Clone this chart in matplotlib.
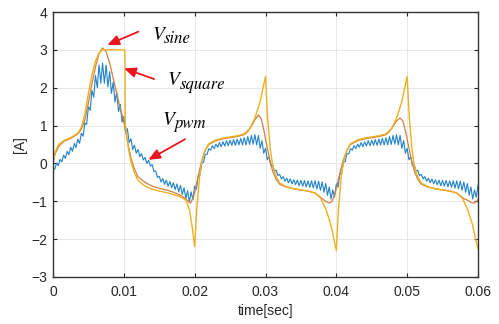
import numpy as np
import matplotlib
matplotlib.use("Agg")
import matplotlib.pyplot as plt

plt.rcParams['font.family'] = 'Liberation Sans'

# square-wave drive current: (time in ms, current in A)
square_t = [0, 0.3, 0.8, 1.5, 2.5, 3.5, 4.0, 4.5, 5.0, 5.5, 6.0, 6.5, 7.0,
            10.15, 10.2, 10.6, 11.0, 11.5, 12.0, 13.0, 14.0, 15.0, 16.0, 17.0, 18.0, 18.8, 19.3, 19.7, 20.0,
            20.3, 20.7, 21.0, 21.5, 22.0, 23.0, 24.0, 25.0, 26.0, 27.0, 27.8, 28.5, 29.2, 29.6, 30.0,
            30.3, 30.7, 31.0, 31.5, 32.0, 33.0, 34.0, 35.0, 36.0, 37.0, 37.8, 38.5, 39.2, 39.6, 40.0,
            40.3, 40.7, 41.0, 41.5, 42.0, 43.0, 44.0, 45.0, 46.0, 47.0, 47.8, 48.5, 49.2, 49.6, 50.0,
            50.3, 50.7, 51.0, 51.5, 52.0, 53.0, 54.0, 55.0, 56.0, 57.0, 57.8, 58.5, 59.2, 59.6, 60.0]
square_v = [0.0, 0.3, 0.5, 0.6, 0.68, 0.8, 0.95, 1.3, 1.85, 2.35, 2.7, 2.92, 3.0,
            3.0, 1.05, 0.45, 0.05, -0.25, -0.45, -0.6, -0.68, -0.73, -0.77, -0.82, -0.88, -0.98, -1.25, -1.75, -2.2,
            -1.2, -0.35, 0.05, 0.35, 0.52, 0.62, 0.67, 0.7, 0.73, 0.78, 0.92, 1.2, 1.6, 1.95, 2.3,
            1.2, 0.35, -0.05, -0.35, -0.52, -0.62, -0.67, -0.7, -0.73, -0.78, -0.92, -1.2, -1.6, -1.95, -2.3,
            -1.2, -0.35, 0.05, 0.35, 0.52, 0.62, 0.67, 0.7, 0.73, 0.78, 0.92, 1.2, 1.6, 1.95, 2.3,
            1.2, 0.35, -0.05, -0.35, -0.52, -0.62, -0.67, -0.7, -0.73, -0.78, -0.92, -1.2, -1.6, -1.95, -2.25]

# sine drive current
sine_t = [0, 0.3, 0.8, 1.5, 2.5, 3.5, 4.0, 4.5, 5.0, 5.5, 6.0, 6.5, 7.0, 7.5, 8.0, 8.5, 9.0, 9.5,
          10.0, 10.5, 11.0, 11.5, 12.0, 13.0, 14.0, 15.0, 16.0, 17.0, 18.0, 18.8, 19.4, 19.8,
          20.2, 20.6, 21.0, 21.5, 22.0, 23.0, 24.0, 25.0, 26.0, 27.0, 27.5, 28.0, 28.5, 29.0, 29.4, 29.8,
          30.2, 30.6, 31.0, 31.5, 32.0, 33.0, 34.0, 35.0, 36.0, 37.0, 37.5, 38.0, 38.5, 39.0, 39.4, 39.8,
          40.2, 40.6, 41.0, 41.5, 42.0, 43.0, 44.0, 45.0, 46.0, 47.0, 47.5, 48.0, 48.5, 49.0, 49.4, 49.8,
          50.2, 50.6, 51.0, 51.5, 52.0, 53.0, 54.0, 55.0, 56.0, 57.0, 57.5, 58.0, 58.5, 59.0, 59.4, 59.8,
          60.0]
sine_v = [0.05, 0.25, 0.45, 0.58, 0.66, 0.78, 0.9, 1.15, 1.6, 2.1, 2.55, 2.9, 3.05, 2.95, 2.65, 2.25, 1.85, 1.45,
          1.1, 0.6, 0.15, -0.15, -0.35, -0.5, -0.6, -0.66, -0.7, -0.76, -0.84, -0.95, -1.05, -0.9,
          -0.6, -0.25, 0.08, 0.35, 0.5, 0.6, 0.65, 0.68, 0.71, 0.76, 0.84, 0.98, 1.15, 1.28, 1.18, 0.85,
          0.45, 0.1, -0.2, -0.42, -0.55, -0.63, -0.67, -0.7, -0.73, -0.78, -0.85, -0.93, -1.0, -1.05, -1.0, -0.8,
          -0.5, -0.18, 0.1, 0.35, 0.5, 0.6, 0.65, 0.68, 0.71, 0.76, 0.84, 0.98, 1.12, 1.2, 1.12, 0.82,
          0.45, 0.1, -0.2, -0.42, -0.55, -0.63, -0.67, -0.7, -0.73, -0.78, -0.85, -0.93, -0.97, -1.03, -1.05, -1.0,
          -0.95]

# PWM current: ripple tops every 0.5 ms starting at 0, bottoms in between
pwm_peak = [-0.10, 0.01, 0.11, 0.22, 0.32, 0.43, 0.53, 0.64, 0.80, 1.07,
            1.50, 1.93, 2.32, 2.60, 2.65, 2.60, 2.42, 2.15, 1.88, 1.56,
            1.24, 0.92, 0.65, 0.48, 0.37, 0.26, 0.16, 0.08, -0.03, -0.20,
            -0.34, -0.40, -0.44, -0.48, -0.51, -0.54, -0.58, -0.64, -0.72, -0.75,
            -0.60, -0.32, 0.00, 0.24, 0.39, 0.47, 0.51, 0.55, 0.57, 0.60,
            0.61, 0.63, 0.64, 0.66, 0.68, 0.71, 0.74, 0.76, 0.74, 0.60,
            0.40, 0.17, -0.03, -0.18, -0.29, -0.35, -0.39, -0.41, -0.43, -0.44,
            -0.45, -0.45, -0.46, -0.46, -0.46, -0.47, -0.49, -0.53, -0.62, -0.70,
            -0.54, -0.28, 0.03, 0.26, 0.39, 0.47, 0.51, 0.55, 0.57, 0.60,
            0.61, 0.63, 0.64, 0.66, 0.68, 0.71, 0.74, 0.76, 0.74, 0.60,
            0.40, 0.17, -0.03, -0.18, -0.29, -0.35, -0.39, -0.41, -0.43, -0.44,
            -0.45, -0.45, -0.46, -0.46, -0.46, -0.47, -0.49, -0.53, -0.62, -0.70,
            -0.58]
pwm_trough = [-0.15, -0.06, 0.04, 0.13, 0.23, 0.32, 0.42, 0.53, 0.72, 1.03,
              1.40, 1.75, 2.00, 2.12, 2.12, 2.02, 1.85, 1.62, 1.37, 1.09,
              0.81, 0.55, 0.37, 0.27, 0.18, 0.09, 0.00, -0.07, -0.21, -0.37,
              -0.49, -0.55, -0.60, -0.64, -0.69, -0.75, -0.82, -0.93, -1.02, -0.96,
              -0.68, -0.31, 0.03, 0.24, 0.35, 0.39, 0.43, 0.44, 0.46, 0.47,
              0.48, 0.48, 0.49, 0.49, 0.49, 0.50, 0.51, 0.49, 0.40, 0.27,
              0.10, -0.06, -0.20, -0.32, -0.41, -0.47, -0.51, -0.54, -0.56, -0.59,
              -0.60, -0.62, -0.63, -0.65, -0.67, -0.71, -0.76, -0.84, -0.94, -0.89,
              -0.63, -0.27, 0.05, 0.25, 0.35, 0.39, 0.43, 0.44, 0.46, 0.47,
              0.48, 0.48, 0.49, 0.49, 0.49, 0.50, 0.51, 0.49, 0.40, 0.27,
              0.10, -0.06, -0.20, -0.32, -0.41, -0.47, -0.51, -0.54, -0.56, -0.59,
              -0.60, -0.62, -0.63, -0.65, -0.67, -0.71, -0.76, -0.84, -0.94, -0.89]

x_ticks = [0, 0.01, 0.02, 0.03, 0.04, 0.05, 0.06]
x_ticklabels = ['0', '0.01', '0.02', '0.03', '0.04', '0.05', '0.06']
y_ticks = [-3, -2, -1, 0, 1, 2, 3, 4]

# trace names (main letter, subscript)
trace_names = [('V', 'sine'), ('V', 'square'), ('V', 'pwm')]

# interleave ripple tops and bottoms on a 0.25 ms grid
pwm_v = np.empty(len(pwm_peak) + len(pwm_trough))
pwm_v[0::2] = pwm_peak
pwm_v[1::2] = pwm_trough
pwm_t = np.arange(len(pwm_v)) * 0.25e-3

fig = plt.figure(figsize=(4.99, 3.24), dpi=100)
ax = fig.add_axes([53 / 499, 1 - 277 / 324, 425 / 499, 265 / 324])

ax.plot(pwm_t, pwm_v, color='#1f82cc', linewidth=0.8)
ax.plot(np.array(sine_t) / 1000, sine_v, color='#cf7f45', linewidth=0.9)
ax.plot(np.array(square_t) / 1000, square_v, color='#edb120', linewidth=1.0)

ax.set_xlim(0, 0.06)
ax.set_ylim(-3, 4)
ax.set_xticks(x_ticks)
ax.set_xticklabels(x_ticklabels)
ax.set_yticks(y_ticks)
ax.grid(True, color='#e3e3e3', linewidth=0.6)
ax.set_axisbelow(True)
ax.tick_params(direction='in', top=True, right=True, length=3, width=0.8,
               labelsize=10, colors='#262626')
ax.tick_params(axis='x', pad=6)
ax.tick_params(axis='y', pad=4)
for side in ax.spines.values():
    side.set_color('#333333')
    side.set_linewidth(1.0)

ax.set_xlabel('time[sec]', fontsize=10, color='#262626', labelpad=3)
ax.set_ylabel('[A]', fontsize=10, color='#262626', labelpad=3)

# red arrows pointing at each trace
arrow = dict(arrowstyle='-|>,head_width=0.3,head_length=0.7', color='#e8141e',
             linewidth=1.3, shrinkA=0, shrinkB=0)
ax.annotate('', xy=(0.00767, 3.13), xytext=(0.01205, 3.48), arrowprops=arrow)
ax.annotate('', xy=(0.01003, 2.51), xytext=(0.01427, 2.23), arrowprops=arrow)
ax.annotate('', xy=(0.01346, 0.095), xytext=(0.01864, 0.64), arrowprops=arrow)

label_pos = [(0.01400, 3.26), (0.01620, 2.07), (0.01549, 1.02)]
serif = dict(family='STIXGeneral', style='italic', color='black')
for (main, sub), (lx, ly) in zip(trace_names, label_pos):
    ax.text(lx, ly, main, fontsize=14, va='baseline', **serif)
    ax.annotate(sub, xy=(lx, ly), xytext=(8.6, -2.5), textcoords='offset points',
                fontsize=12, va='baseline', **serif)

fig.savefig('out.png', dpi=100)
